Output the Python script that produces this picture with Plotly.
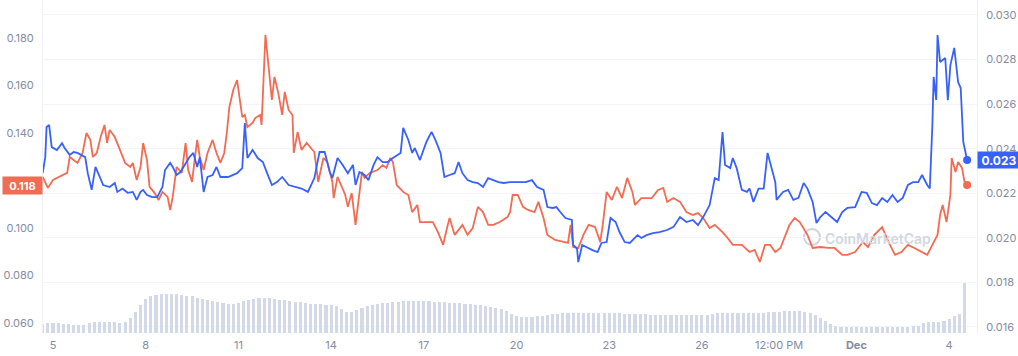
import plotly.graph_objects as go
from datetime import datetime, timedelta

# ---------------- data ----------------
BASE = datetime(2022, 11, 5)

# red series (left axis): hours since Nov 5 00:00, price
red_h = [-8, -4, 0, 11, 13, 19, 23, 26, 29, 31, 34, 37, 40, 42, 44, 48, 52, 56, 60, 62,
         65, 68, 70, 73, 75, 79, 82, 85, 89, 91, 93, 96, 100, 103, 105, 108, 110, 112, 114, 117,
         120, 122, 124, 127, 130, 133, 135, 137, 140, 143, 145, 147, 149, 151, 155, 157, 161, 162, 165, 167,
         170, 172, 175, 178, 180, 183, 186, 187, 190, 193, 197, 203, 206, 210, 213, 217, 218, 221, 227, 229,
         232, 235, 237, 240, 242, 246, 252, 256, 259, 262, 264, 267, 272, 276, 279, 283, 285, 289, 295, 299,
         303, 306, 308, 312, 318, 322, 326, 330, 334, 338, 342, 347, 353, 355, 357, 361, 365, 369, 374, 377,
         381, 384, 390, 400, 402, 404, 408, 412, 416, 421, 425, 427, 430, 434, 438, 442, 446, 450, 452, 457,
         465, 470, 474, 477, 482, 487, 492, 497, 501, 505, 510, 514, 520, 524, 528, 535, 541, 545, 549, 553,
         557, 561, 565, 569, 572, 576, 580, 586, 590, 596, 602, 607, 613, 617, 623, 629, 633, 638, 644, 649,
         654, 659, 664, 669, 675, 679, 683, 687, 689, 691, 694, 697, 698, 701, 703, 706, 708, 710]
red_v = [.1215, .1169, .1202, .1232, .1299, .1274, .1316, .1400, .1371, .1299, .1316, .1383, .1434, .1358, .1413, .1383, .1329, .1274, .1257, .1274,
         .1202, .1257, .1358, .1286, .1173, .1147, .1118, .1152, .1131, .1076, .1131, .1257, .1232, .1358, .1244, .1194, .1286, .1371, .1299, .1244,
         .1316, .1341, .1371, .1316, .1274, .1316, .1400, .1510, .1581, .1623, .1552, .1467, .1476, .1425, .1442, .1463, .1476, .1434, .1813, .1707,
         .1539, .1636, .1568, .1476, .1573, .1497, .1476, .1316, .1404, .1329, .1358, .1320, .1194, .1295, .1278, .1194, .1126, .1215, .1139, .1089,
         .1147, .1013, .1097, .1236, .1211, .1232, .1244, .1265, .1253, .1295, .1278, .1181, .1152, .1139, .1067, .1097, .1025, .1025, .1025, .0983,
         .0929, .1000, .1042, .0971, .1013, .0971, .1000, .1089, .1067, .1013, .1013, .1025, .1046, .1067, .1139, .1139, .1089, .1076, .1067, .1110,
         .1042, .0971, .0950, .0937, .1013, .0920, .0916, .0971, .1013, .1004, .0941, .1013, .1152, .1118, .1173, .1126, .1211, .1152, .1097, .1126,
         .1126, .1160, .1169, .1110, .1126, .1110, .1067, .1055, .1063, .1042, .1000, .1013, .0983, .0958, .0929, .0929, .0899, .0908, .0857, .0929,
         .0929, .0899, .0916, .0971, .1013, .1042, .1025, .0971, .0916, .0920, .0916, .0916, .0887, .0887, .0899, .0941, .0920, .0971, .1004, .0941,
         .0887, .0899, .0929, .0916, .0899, .0887, .0929, .0971, .1055, .1097, .1025, .1139, .1295, .1236, .1278, .1253, .1194, .1181]

# blue series (right axis)
blue_h = [-8, -6, -5, -3, -1, 3, 7, 9, 13, 16, 19, 25, 27, 30, 33, 35, 39, 44, 48, 50,
          54, 58, 62, 65, 68, 70, 73, 77, 81, 83, 85, 87, 91, 93, 96, 99, 103, 106, 109, 112,
          114, 117, 120, 124, 127, 130, 136, 143, 147, 149, 151, 155, 159, 163, 166, 170, 174, 178, 183, 188,
          193, 198, 203, 207, 211, 215, 217, 221, 225, 229, 233, 235, 238, 242, 245, 249, 252, 256, 260, 264,
          270, 272, 276, 279, 281, 285, 290, 294, 297, 301, 304, 308, 312, 315, 318, 322, 326, 330, 334, 338,
          342, 346, 350, 355, 361, 367, 372, 376, 381, 384, 388, 391, 394, 398, 403, 404, 407, 408, 411, 415,
          419, 423, 426, 430, 433, 437, 440, 444, 448, 454, 457, 461, 466, 471, 477, 482, 487, 492, 497, 501,
          505, 510, 514, 517, 520, 522, 526, 528, 531, 535, 539, 541, 544, 548, 552, 555, 558, 561, 562, 567,
          571, 575, 579, 583, 586, 590, 593, 596, 600, 605, 609, 613, 617, 623, 628, 632, 636, 640, 644, 648,
          652, 656, 660, 664, 668, 672, 675, 679, 681, 683, 684, 686, 687, 689, 693, 695, 697, 700, 703, 705,
          707, 708, 710]
blue_v = [.02290, .02362, .02497, .02506, .02407, .02394, .02425, .02403, .02372, .02385, .02381, .02362, .02290, .02215, .02318, .02290, .02237, .02228, .02246, .02206,
          .02221, .02202, .02206, .02170, .02206, .02215, .02192, .02183, .02183, .02206, .02228, .02304, .02336, .02318, .02282, .02295, .02336, .02362, .02381, .02318,
          .02362, .02206, .02273, .02282, .02318, .02273, .02273, .02290, .02313, .02515, .02358, .02394, .02358, .02340, .02295, .02237, .02250, .02273, .02237, .02228,
          .02221, .02206, .02268, .02385, .02385, .02295, .02268, .02358, .02327, .02290, .02327, .02237, .02295, .02282, .02259, .02327, .02362, .02340, .02340, .02358,
          .02381, .02493, .02439, .02381, .02403, .02349, .02430, .02475, .02439, .02381, .02273, .02282, .02290, .02340, .02290, .02259, .02250, .02246, .02228, .02268,
          .02259, .02250, .02246, .02250, .02250, .02250, .02259, .02228, .02215, .02138, .02134, .02138, .02116, .02089, .02080, .01968, .01952, .01891, .01968, .01956,
          .01945, .01936, .01977, .01981, .02089, .02071, .02026, .01981, .01977, .02012, .01999, .02012, .02021, .02026, .02035, .02049, .02093, .02071, .02080, .02057,
          .02093, .02147, .02268, .02259, .02475, .02327, .02313, .02358, .02313, .02215, .02206, .02221, .02161, .02221, .02221, .02381, .02313, .02250, .02170, .02206,
          .02215, .02170, .02179, .02246, .02221, .02161, .02066, .02093, .02116, .02093, .02071, .02116, .02134, .02138, .02206, .02202, .02156, .02147, .02179, .02161,
          .02192, .02161, .02179, .02237, .02250, .02250, .02282, .02237, .02221, .02506, .02722, .02618, .02910, .02789, .02807, .02618, .02775, .02852, .02699, .02672,
          .02430, .02403, .02349]

# volume (relative units), one bar every 4 hours from -8 h
vol_start_h = -8
vol_step_h = 4
volume = [9, 10, 10, 10, 9, 9, 8, 8, 8, 10,
          11, 11, 11, 11, 11, 10, 11, 15, 21, 28,
          34, 37, 38, 39, 39, 39, 39, 38, 37, 37,
          35, 34, 33, 32, 31, 30, 29, 29, 30, 32,
          33, 34, 35, 35, 35, 34, 33, 33, 32, 31,
          31, 30, 29, 29, 29, 28, 28, 27, 24, 21,
          21, 23, 25, 27, 28, 29, 30, 30, 31, 31,
          32, 32, 32, 32, 32, 32, 31, 31, 31, 30,
          30, 30, 29, 29, 28, 28, 27, 26, 25, 24,
          22, 19, 17, 16, 16, 16, 17, 17, 18, 19,
          19, 20, 20, 20, 20, 20, 20, 20, 20, 20,
          20, 20, 20, 19, 19, 19, 19, 19, 18, 18,
          18, 18, 18, 18, 18, 18, 18, 18, 18, 18,
          19, 20, 20, 20, 20, 20, 20, 20, 20, 20,
          20, 21, 21, 21, 22, 22, 22, 22, 21, 20,
          18, 15, 12, 9, 7, 6, 6, 6, 6, 6,
          6, 6, 6, 6, 6, 6, 6, 6, 6, 7,
          7, 10, 11, 11, 11, 12, 14, 17, 19, 50]

tick_dates = ["2022-11-05", "2022-11-08", "2022-11-11", "2022-11-14", "2022-11-17", "2022-11-20",
              "2022-11-23", "2022-11-26", "2022-11-28 12:00", "2022-12-01", "2022-12-04"]
tick_text = ["5", "8", "11", "14", "17", "20", "23", "26", "12:00 PM", "<b>Dec</b>", "4"]
left_ticks = [0.06, 0.08, 0.10, 0.14, 0.16, 0.18]
right_ticks = [0.016, 0.018, 0.020, 0.022, 0.024, 0.026, 0.028, 0.030]

# ---------------- figure ----------------
assert len(red_h) == len(red_v), (len(red_h), len(red_v))
assert len(blue_h) == len(blue_v), (len(blue_h), len(blue_v))

RED = "#F26B52"
BLUE = "#3861FB"
GRAY = "#858CA2"
FONT = "Inter"


def t(h):
    return BASE + timedelta(hours=h)


red_x = [t(h) for h in red_h]
blue_x = [t(h) for h in blue_h]
vol_x = [t(vol_start_h + i * vol_step_h) for i in range(len(volume))]

fig = go.Figure()
fig.add_trace(go.Bar(x=vol_x, y=volume, yaxis="y3", marker=dict(color="#D3D9E6", line=dict(width=0)),
                     width=vol_step_h * 3600 * 1000 * 0.6, showlegend=False, hoverinfo="skip"))
fig.add_trace(go.Scatter(x=red_x, y=red_v, yaxis="y", mode="lines",
                         line=dict(color=RED, width=1.8), showlegend=False))
fig.add_trace(go.Scatter(x=blue_x, y=blue_v, yaxis="y2", mode="lines",
                         line=dict(color=BLUE, width=1.8), showlegend=False))
fig.add_trace(go.Scatter(x=[red_x[-1]], y=[red_v[-1]], yaxis="y", mode="markers",
                         marker=dict(color=RED, size=8), showlegend=False))
fig.add_trace(go.Scatter(x=[blue_x[-1]], y=[blue_v[-1]], yaxis="y2", mode="markers",
                         marker=dict(color=BLUE, size=8), showlegend=False))

fig.update_layout(
    width=1018, height=356, autosize=False,
    margin=dict(l=43, r=41, t=0, b=23),
    paper_bgcolor="white", plot_bgcolor="white",
    font=dict(family=FONT, size=11, color=GRAY),
    bargap=0,
    xaxis=dict(type="date", range=["2022-11-04 16:14", "2022-12-04 21:40"],
               tickvals=tick_dates, ticktext=tick_text, showgrid=False, showline=False,
               zeroline=False, ticks="", ticklabelstandoff=4,
               tickfont=dict(family=FONT, size=11, color=GRAY)),
    yaxis=dict(range=[0.0558, 0.196], tickvals=left_ticks, tickformat=".3f", showgrid=False,
               zeroline=False, ticks="", showline=True, linecolor="#EFF1F5", linewidth=1,
               ticklabelstandoff=6, tickfont=dict(family=FONT, size=11, color=GRAY)),
    yaxis2=dict(range=[0.01573, 0.03067], tickvals=right_ticks, tickformat=".3f", overlaying="y",
                side="right", showgrid=True, gridcolor="#F3F4F7", gridwidth=1, zeroline=False,
                ticks="", showline=True, linecolor="#EFF1F5", linewidth=1, ticklabelstandoff=6,
                tickfont=dict(family=FONT, size=11, color=GRAY)),
    yaxis3=dict(range=[0, 333], overlaying="y", visible=False),
)

# value labels
fig.add_annotation(xref="paper", yref="y", x=0, y=red_v[-1], xanchor="right", yanchor="middle",
                   text="<b>%.3f</b>" % red_v[-1], showarrow=False, bgcolor=RED, width=35, height=13,
                   borderpad=2, font=dict(family=FONT, size=11, color="white"))
fig.add_annotation(xref="paper", yref="y2", x=1, y=blue_v[-1], xanchor="left", yanchor="middle",
                   text="<b>%.3f</b>" % blue_v[-1], showarrow=False, bgcolor=BLUE, width=38, height=12,
                   borderpad=2, font=dict(family=FONT, size=12, color="white"))

# watermark
fig.add_shape(type="circle", xref="paper", yref="paper", x0=0.8148, x1=0.8319, y0=0.2643, y1=0.3123,
              line=dict(color="#CDD2DC", width=2), layer="below")
fig.add_annotation(xref="paper", yref="paper", x=0.894, y=0.285, xanchor="center", yanchor="middle",
                   text="CoinMarketCap", showarrow=False,
                   font=dict(family=FONT, size=14, weight=600, color="#D3D7E0"))

fig.write_html("out.html", config={"displayModeBar": False},
               post_script="document.body.style.margin='0';")
